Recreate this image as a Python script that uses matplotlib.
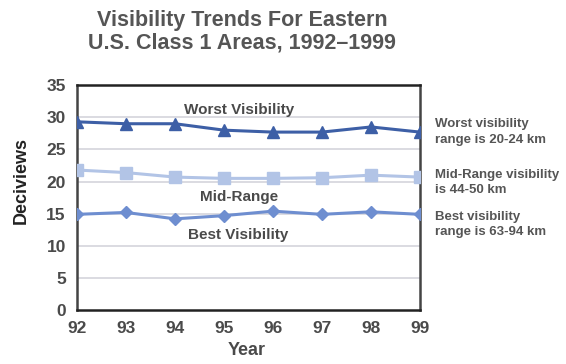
import numpy as np
import matplotlib.pyplot as plt

# Dati: deciviews per anno
years = [92, 93, 94, 95, 96, 97, 98, 99]
worst = [29.3, 29.0, 29.0, 28.0, 27.7, 27.7, 28.5, 27.7]
mid_range = [21.8, 21.4, 20.7, 20.5, 20.5, 20.6, 21.0, 20.7]
best = [14.9, 15.2, 14.2, 14.7, 15.4, 14.9, 15.3, 14.9]

y_ticks = [0, 5, 10, 15, 20, 25, 30, 35]
side_notes = ["Worst visibility\nrange is 20-24 km",
              "Mid-Range visibility\nis 44-50 km",
              "Best visibility\nrange is 63-94 km"]

txt = '#4a4a4a'
plt.rcParams['font.family'] = ['Liberation Sans', 'DejaVu Sans']

fig = plt.figure(figsize=(5.66, 3.64), dpi=100)
ax = fig.add_axes([0.136, 0.148, 0.606, 0.618])

for y in y_ticks[1:-1]:
    ax.axhline(y, color='#d4d4dc', lw=1.2, zorder=0)

ax.plot(years, worst, color='#3d5fa6', lw=2.2, marker='^', ms=8, zorder=3)
ax.plot(years, mid_range, color='#b2c4e6', lw=2.2, marker='s', ms=8, zorder=3)
ax.plot(years, best, color='#6e8ed0', lw=2.2, marker='D', ms=6, zorder=3)

ax.set_xlim(92, 99)
ax.set_ylim(0, 35)
ax.set_xticks(years)
ax.set_yticks(y_ticks)
ax.tick_params(length=0, labelsize=12.5, labelcolor=txt, pad=8)
for lab in ax.get_xticklabels() + ax.get_yticklabels():
    lab.set_fontweight('bold')

for side in ['top', 'bottom']:
    ax.spines[side].set_color('#222222')
    ax.spines[side].set_linewidth(1.8)
for side in ['left', 'right']:
    ax.spines[side].set_color('#444444')
    ax.spines[side].set_linewidth(1.8)

ax.text(95.3, 31.1, "Worst Visibility", ha='center', va='center',
        fontsize=11, fontweight='bold', color=txt)
ax.text(95.3, 17.6, "Mid-Range", ha='center', va='center',
        fontsize=11, fontweight='bold', color=txt)
ax.text(95.3, 11.7, "Best Visibility", ha='center', va='center',
        fontsize=11, fontweight='bold', color=txt)

fig.text(0.037, 0.503, "Deciviews", rotation=90, ha='center', va='center',
         fontsize=13, fontweight='bold', color='#222222')
fig.text(0.436, 0.038, "Year", ha='center', va='center',
         fontsize=13, fontweight='bold', color=txt)

fig.text(0.428, 0.912, "Visibility Trends For Eastern\nU.S. Class 1 Areas, 1992\u20131999",
         ha='center', va='center', fontsize=15.5, fontweight='bold', color='#555555',
         linespacing=1.1)

for note, yf in zip(side_notes, [0.637, 0.499, 0.383]):
    fig.text(0.769, yf, note, ha='left', va='center', fontsize=9.5,
             fontweight='bold', color='#555555', linespacing=1.4)

fig.savefig('out.png', dpi=100)
